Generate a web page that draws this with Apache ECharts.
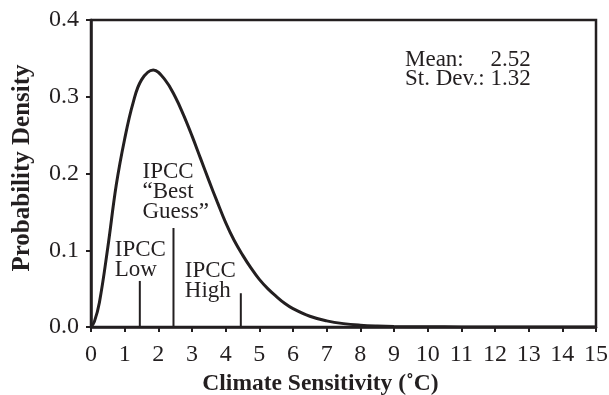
<!DOCTYPE html>
<html>
<head>
<meta charset="utf-8">
<script src="https://cdn.jsdelivr.net/npm/echarts@6/dist/echarts.min.js"></script>
<style>
html,body{margin:0;padding:0;background:#fff;}
#chart{width:609px;height:395px;}
</style>
</head>
<body>
<div id="chart"></div>
<script>
// Climate sensitivity (°C) and probability density
var sensitivity = [0, 0.1, 0.25, 0.5, 0.75, 1.0, 1.25, 1.5, 1.85, 2.2, 2.5, 2.75, 3.0, 3.25, 3.5, 3.75, 4.0, 4.25, 4.5, 4.75, 5.0, 5.25, 5.5, 5.75, 6.0, 6.5, 7.0, 7.5, 8.0, 8.5, 9.0, 10.0, 11.0, 12.0, 13.0, 14.0, 15.0];
var density = [0, 0.007, 0.032, 0.104, 0.185, 0.245, 0.292, 0.322, 0.335, 0.322, 0.300, 0.276, 0.249, 0.220, 0.191, 0.163, 0.136, 0.113, 0.094, 0.077, 0.062, 0.050, 0.040, 0.031, 0.024, 0.014, 0.008, 0.0044, 0.0024, 0.0013, 0.0007, 0.0003, 0.0001, 0.00005, 0.00002, 0.00001, 0];

// IPCC estimates: position and marker height
var ipccNames = ["IPCC\nLow", "IPCC\n\u201cBest\nGuess\u201d", "IPCC\nHigh"];
var ipccX = [1.45, 2.45, 4.45];
var ipccTop = [0.060, 0.129, 0.044];

var statMean = ["Mean:", "2.52"];
var statSd = "St. Dev.: 1.32";

var xTicks = {min: 0, max: 15, interval: 1};
var yTicks = {min: 0, max: 0.4, interval: 0.1};

var FONT = "'Liberation Serif', 'Times New Roman', serif";
var INK = "#231f20";

var chart = echarts.init(document.getElementById('chart'), null, {renderer: 'canvas'});

var series = [{
  type: 'line',
  data: sensitivity.map(function (x, i) { return [x, density[i]]; }),
  smooth: 0.4,
  showSymbol: false,
  lineStyle: {color: INK, width: 3},
  z: 3
}];
ipccX.forEach(function (x, i) {
  series.push({
    type: 'line',
    data: [[x, 0], [x, ipccTop[i]]],
    showSymbol: false,
    lineStyle: {color: INK, width: 2},
    z: 2
  });
});

chart.setOption({
  animation: false,
  backgroundColor: '#fff',
  grid: {left: 91, right: 13, top: 20, bottom: 68, containLabel: false, outerBoundsMode: 'none',
    show: true, borderColor: INK, borderWidth: 2.5, backgroundColor: 'transparent'},
  xAxis: {
    type: 'value', min: xTicks.min, max: xTicks.max, interval: xTicks.interval,
    name: 'Climate Sensitivity (\u02daC)', nameLocation: 'middle', nameGap: 45,
    nameTextStyle: {fontFamily: FONT, fontSize: 23.5, fontWeight: 'bold', color: INK, padding: [0, 46, 0, 0]},
    axisLine: {show: true, onZero: false, lineStyle: {color: INK, width: 2.5}},
    axisTick: {show: true, inside: false, length: 5, lineStyle: {color: INK, width: 2}},
    axisLabel: {fontFamily: FONT, fontSize: 24, color: INK, margin: 16},
    splitLine: {show: false}
  },
  yAxis: {
    type: 'value', min: yTicks.min, max: yTicks.max, interval: yTicks.interval,
    name: 'Probability Density', nameLocation: 'middle', nameGap: 56, nameRotate: 90,
    nameTextStyle: {fontFamily: FONT, fontSize: 25, fontWeight: 'bold', color: INK, padding: [0, 0, 0, 11]},
    axisLine: {show: true, onZero: false, lineStyle: {color: INK, width: 2.5}},
    axisTick: {show: true, inside: false, length: 5, lineStyle: {color: INK, width: 2}},
    axisLabel: {fontFamily: FONT, fontSize: 24, color: INK, margin: 12,
      formatter: function (v) { return v.toFixed(1); }},
    splitLine: {show: false}
  },
  series: series
});

// annotation text placed relative to the data markers
var ANN_FONT = '23px ' + FONT;
var ann = [];
var offsets = [[-25, -41], [-31, -66], [-56, -32]];
ipccX.forEach(function (x, i) {
  var p = chart.convertToPixel({gridIndex: 0}, [x, ipccTop[i]]);
  ann.push({
    type: 'text', z: 10,
    style: {text: ipccNames[i], x: p[0] + offsets[i][0], y: p[1] + offsets[i][1],
      font: ANN_FONT, fill: INK, textAlign: 'left', textVerticalAlign: 'top', lineHeight: 20}
  });
});
var cv = document.createElement('canvas').getContext('2d');
cv.font = ANN_FONT;
var sdWidth = cv.measureText(statSd).width;
var statLeft = 405, statTop = 50;
ann.push({type: 'text', z: 10, style: {text: statMean[0], x: statLeft, y: statTop,
  font: ANN_FONT, fill: INK, textAlign: 'left', textVerticalAlign: 'top', lineHeight: 19}});
ann.push({type: 'text', z: 10, style: {text: statMean[1], x: statLeft + sdWidth, y: statTop,
  font: ANN_FONT, fill: INK, textAlign: 'right', textVerticalAlign: 'top', lineHeight: 19}});
ann.push({type: 'text', z: 10, style: {text: statSd, x: statLeft, y: statTop + 19,
  font: ANN_FONT, fill: INK, textAlign: 'left', textVerticalAlign: 'top', lineHeight: 19}});
chart.setOption({graphic: ann});
</script>
</body>
</html>
